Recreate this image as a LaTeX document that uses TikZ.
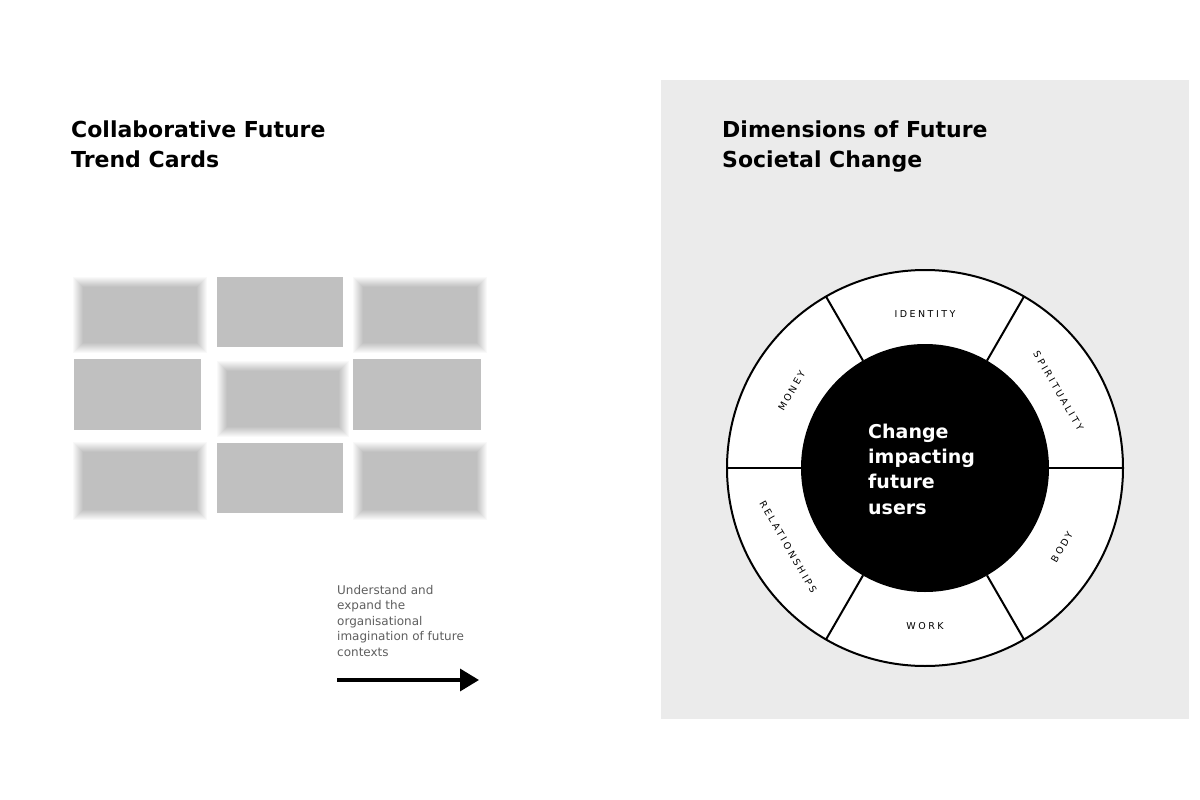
\documentclass[tikz,border=0pt]{standalone}
\usepackage{fontspec}
\setmainfont{DejaVu Sans}
\newfontfamily\trackedfont[LetterSpace=26]{DejaVu Sans}
\usepackage{xcolor}
\usepackage{tikz}
\usetikzlibrary{arrows.meta}
\definecolor{panelgray}{RGB}{235,235,235}
\definecolor{cardgray}{RGB}{192,192,192}
\definecolor{blurbgray}{RGB}{95,95,95}
\tikzset{
  title/.style={anchor=base west, align=left, inner sep=0pt, font=\fontsize{22}{30}\selectfont\bfseries},
  card/.style={fill=cardgray},
  segment/.style={anchor=center, inner sep=0pt, font=\fontsize{9.5}{10}\selectfont\trackedfont}
}

\begin{document}
\begin{tikzpicture}[x=1pt,y=-1pt]
\useasboundingbox (0,0) rectangle (1200,800);
\fill[white] (0,0) rectangle (1200,800);
\fill[panelgray] (661,80) rectangle (1189,719);

\node[title] (cardstitle) at (71,167) {Collaborative Future\\Trend Cards};
\node[title] (wheeltitle) at (722,167) {Dimensions of Future\\Societal Change};

\foreach \xa/\ya/\xb/\yb in {217/277/343/347, 74/359/201/430, 353/359/481/430, 217/443/343/513}
  \fill[card] (\xa,\ya) rectangle (\xb,\yb);
\foreach \xa/\ya/\xb/\yb in {78/282/202/348, 358/282/482/348, 222/366/344/432, 78/447/202/515, 358/447/482/515}{
  \foreach \off in {5,4,3,2,1,0,-1,-2,-3,-4,-5}{
    \pgfmathsetmacro{\op}{1/(6+\off)}
    \fill[card, fill opacity=\op] (\xa-\off,\ya-\off) rectangle (\xb+\off,\yb+\off);
  }
}

\node[anchor=base west, align=left, inner sep=0pt, text=blurbgray, font=\fontsize{12}{15.5}\selectfont] (blurb) at (337,656)
  {Understand and\\expand the\\organisational\\imagination of future\\contexts};
\coordinate (arrowtail) at (337,680);
\coordinate (arrowtip) at (479,680);
\draw[line width=3.5pt, -{Triangle[length=19pt,width=22pt]}] (arrowtail) -- (arrowtip);

\begin{scope}[shift={(925,468)}, yscale=-1]
\coordinate (hubcentre) at (0,0);
\filldraw[fill=white, draw=black, line width=2pt] (hubcentre) circle (198);
\foreach \a in {0,60,...,300}
  \draw[line width=2pt] (\a:124) -- (\a:198);
\fill[black] (hubcentre) circle (124);
\foreach \a/\r/\rot/\txt in {90/154/0/IDENTITY, 30/154/-60/SPIRITUALITY, 150/154/60/MONEY, 210/158/-60/RELATIONSHIPS, 270/158/0/WORK, 330/158/60/BODY}
  \node[segment, rotate=\rot] (seg\txt) at (\a:\r) {\txt};
\end{scope}

\node[anchor=base west, align=left, inner sep=0pt, text=white, font=\fontsize{19}{25.3}\selectfont\bfseries] (hub) at (868,514)
  {Change\\impacting\\future\\users};
\end{tikzpicture}
\end{document}
